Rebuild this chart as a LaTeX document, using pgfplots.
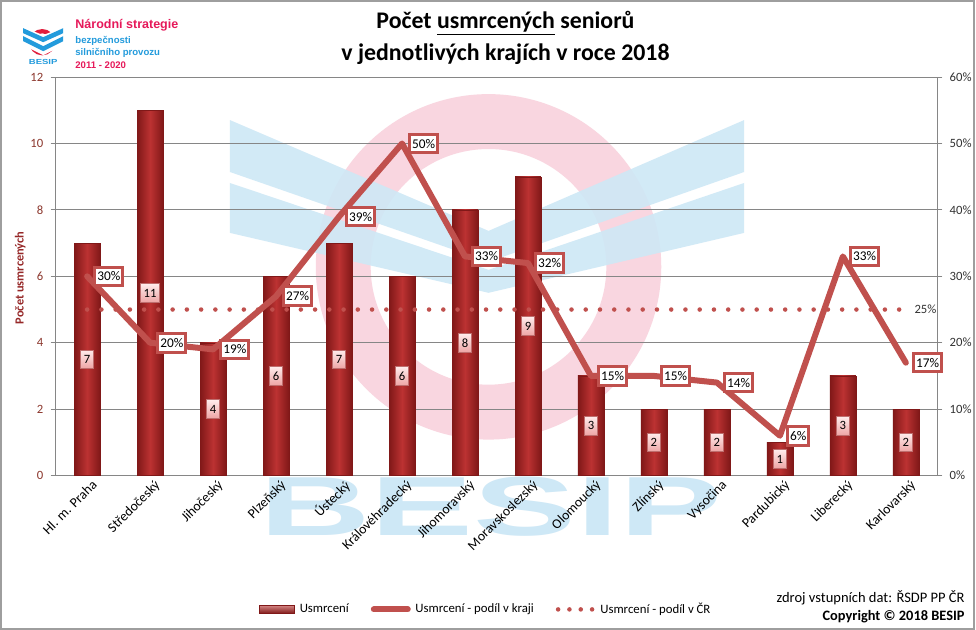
\documentclass[border=0pt]{standalone}
\usepackage{pgfplots}
\pgfplotsset{compat=1.18}
\usepackage{pgfplotstable}
\usepackage{fontspec}
\setmainfont{Carlito}
\newfontfamily\arialfont{Liberation Sans}
\definecolor{linered}{RGB}{192,80,77}
\definecolor{barmid}{RGB}{188,50,50}
\definecolor{bardark}{RGB}{128,24,24}
\definecolor{ticklab}{RGB}{140,55,45}
\definecolor{ylabred}{RGB}{150,40,40}
\definecolor{axgray}{RGB}{134,134,134}
\definecolor{wmpink}{RGB}{249,214,224}
\definecolor{wmblue}{RGB}{206,232,246}
\definecolor{logopink}{RGB}{230,25,90}
\definecolor{logoblue}{RGB}{35,155,220}
\definecolor{logored}{RGB}{225,30,60}
\definecolor{lblpink1}{RGB}{255,236,236}
\definecolor{lblpink2}{RGB}{238,165,165}
\definecolor{lblborder}{RGB}{190,110,110}

\pgfplotstableread{
x v p
0 7 30
1 11 20
2 4 19
3 6 27
4 7 39
5 6 50
6 8 33
7 9 32
8 3 15
9 2 15
10 2 14
11 1 6
12 3 33
13 2 17
}\regdata

\pgfplotstableread{
x c
0 25
1 25
2 25
3 25
4 25
5 25
6 25
7 25
8 25
9 25
10 25
11 25
12 25
13 25
}\crdata

\pgfplotsset{
  /pgf/number format/assume math mode=true,
  common/.style={
    at={(41.625pt,115.5pt)}, anchor=south west,
    scale only axis, width=662.25pt, height=299.25pt,
    xmin=-0.5, xmax=13.5,
    tick align=outside, major tick length=3.75pt,
    tick style={axgray, line width=0.75pt},
    axis line style={axgray, line width=0.75pt},
    clip=false,
  },
  barleg/.style={legend image code/.code={\draw[draw=bardark, line width=0.8pt, top color=linered!70!white, bottom color=bardark] (0pt,-3pt) rectangle (26pt,3pt);}},
  lineleg/.style={legend image code/.code={\draw[linered, line width=4.5pt, line cap=round] (1.5pt,0pt) -- (27pt,0pt);}},
  dotleg/.style={legend image code/.code={\draw[linered, line width=3.4pt, line cap=round, dash pattern=on 0pt off 8.5pt] (1.5pt,0pt) -- (28pt,0pt);}},
}

\begin{document}
\begin{tikzpicture}
\begin{scope}[x=0.75pt,y=0.75pt]
\useasboundingbox (0,0) rectangle (976,630);
\fill[white] (0,0) rectangle (976,630);

% watermark
\draw[wmpink, line width=41.25pt] (489,363) circle (145.5);
\fill[wmblue, opacity=0.9] (230,510) -- (489,399) -- (745,510) -- (745,458) -- (489,368) -- (230,458) -- cycle;
\fill[wmblue, opacity=0.9] (230,447) -- (489,360) -- (745,447) -- (745,397) -- (489,337) -- (230,397) -- cycle;
\node[wmblue, font=\arialfont\bfseries\fontsize{63}{63}\selectfont, xscale=1.84, inner sep=0pt, anchor=center] at (491.5,123) {BESIP};

% logo
\draw[logored, line width=3.2pt] (42,588) circle (11);
\fill[white] (21,604) -- (43,595) -- (65,604) -- (65,586) -- (43,575) -- (21,586) -- cycle;
\fill[logoblue] (23,602) -- (43,593) -- (63,602) -- (63,597) -- (43,588) -- (23,597) -- cycle;
\fill[logoblue] (23,594) -- (43,584) -- (63,594) -- (63,589) -- (43,579) -- (23,589) -- cycle;
\node[logoblue, font=\arialfont\bfseries\fontsize{5.5}{6}\selectfont, xscale=1.3, inner sep=0pt] at (43,568) {BESIP};
\node[logopink, font=\arialfont\bfseries\fontsize{9.4}{10}\selectfont, anchor=west, inner sep=0pt] at (75,605) {Národní strategie};
\node[logoblue, font=\arialfont\bfseries\fontsize{7.2}{8}\selectfont, anchor=west, inner sep=0pt] at (75,589) {bezpečnosti};
\node[logoblue, font=\arialfont\bfseries\fontsize{7.2}{8}\selectfont, anchor=west, inner sep=0pt] at (75,577) {silničního provozu};
\node[logopink, font=\arialfont\bfseries\fontsize{7.2}{8}\selectfont, anchor=west, inner sep=0pt] at (75,565) {2011 - 2020};

% title
\node[font=\bfseries\fontsize{17.9}{20}\selectfont, inner sep=0pt] at (506,607) {Počet \underline{usmrcených} seniorů};
\node[font=\bfseries\fontsize{17.9}{20}\selectfont, inner sep=0pt] at (506,576) {v jednotlivých krajích v roce 2018};

% y label
\node[rotate=90, ylabred, font=\bfseries\fontsize{9.3}{10}\selectfont, inner sep=0pt] at (20,352) {Počet usmrcených};

% source
\node[anchor=east, font=\fontsize{10.9}{12}\selectfont, inner sep=0pt] at (966,32) {zdroj vstupních dat: ŘSDP PP ČR};
\node[anchor=east, font=\bfseries\fontsize{10.8}{12}\selectfont, inner sep=0pt] at (966,13) {Copyright © 2018 BESIP};
\end{scope}

% left axis: bars
\begin{axis}[common,
  ymin=0, ymax=12, ytick={0,2,...,12},
  axis y line*=left, axis x line*=bottom,
  ymajorgrids, grid style={axgray, line width=0.75pt},
  xtick={0,...,13},
  xticklabels={Hl. m. Praha, Středočeský, Jihočeský, Plzeňský, Ústecký, Královéhradecký, Jihomoravský, Moravskoslezský, Olomoucký, Zlínský, Vysočina, Pardubický, Liberecký, Karlovarský},
  xtick style={draw=none},
  x tick label style={rotate=45, anchor=north east, font=\fontsize{10.3}{11}\selectfont, inner sep=1pt, xshift=4pt},
  y tick label style={ticklab, font=\fontsize{9.5}{10}\selectfont, xshift=-2pt},
]
\pgfplotsinvokeforeach{0,...,13}{
\addplot[ybar, bar width=19.5pt, draw=bardark, line width=0.3pt, left color=bardark, right color=bardark, middle color=barmid, restrict x to domain=#1:#1] table[x=x, y=v] {\regdata};
}
\addplot[draw=none, mark=none, nodes near coords, point meta=explicit,
  every node near coord/.style={anchor=center, draw=lblborder, line width=0.6pt, top color=lblpink1, bottom color=lblpink2, font=\fontsize{9.5}{10}\selectfont, inner xsep=2.4pt, minimum height=14pt}]
  table[x=x, y expr=\thisrow{v}/2, meta=v] {\regdata};
\end{axis}

% right axis: shares
\begin{axis}[common,
  ymin=0, ymax=60, ytick={0,10,...,60},
  yticklabel={\pgfmathprintnumber{\tick}\%},
  axis y line*=right, axis x line=none,
  y tick label style={black!80, font=\fontsize{9.5}{10}\selectfont, xshift=2pt},
  legend style={at={(0.488,-0.336)}, anchor=center, draw=none, fill=none,
    font=\fontsize{9.6}{10}\selectfont, legend columns=3,
    /tikz/every even column/.append style={column sep=15pt},
    /tikz/every odd column/.append style={column sep=2pt},
    nodes={inner sep=1.5pt}},
  legend cell align=left,
]
\addlegendimage{barleg}
\addlegendentry{Usmrcení}
\addlegendimage{lineleg}
\addlegendentry{Usmrcení - podíl v kraji}
\addlegendimage{dotleg}
\addlegendentry{Usmrcení - podíl v ČR}

\addplot[forget plot, linered, line width=3.4pt, line cap=round, dash pattern=on 0pt off 10.7pt, mark=none] table[x=x, y=c] {\crdata};
\addplot[forget plot, linered, line width=4.5pt, line join=round, line cap=round, mark=none] table[x=x, y=p] {\regdata};
\addplot[forget plot, draw=none, mark=none, nodes near coords={\pgfmathprintnumber{\pgfplotspointmeta}\%}, point meta=y,
  every node near coord/.style={anchor=west, xshift=4.5pt, draw=linered, line width=2.25pt, fill=white, font=\fontsize{10}{11}\selectfont, inner xsep=2pt, minimum height=14pt}]
  table[x=x, y=p] {\regdata};
\addplot[forget plot, draw=none, mark=none, nodes near coords={\pgfmathprintnumber{\pgfplotspointmeta}\%}, point meta=y,
  every node near coord/.style={anchor=west, xshift=3pt, font=\fontsize{9.5}{10}\selectfont, black!80}]
  coordinates {(13,25)};
\end{axis}

\draw[axgray!80, line width=1.5pt] (0.5625pt,0.5625pt) rectangle (731.4375pt,471.9375pt);
\end{tikzpicture}
\end{document}
